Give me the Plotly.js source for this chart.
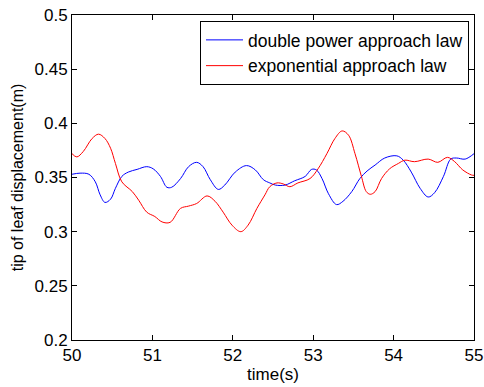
<!DOCTYPE html>
<html>
<head>
<meta charset="utf-8">
<script src="https://cdn.plot.ly/plotly-3.0.1.min.js"></script>
<style>html,body{margin:0;padding:0;background:#fff;}#chart{width:484px;height:387px;}</style>
</head>
<body>
<div id="chart"></div>
<script>
const seriesNames = ["double power approach law", "exponential approach law"];

const blueTime = [50.00,50.10,50.21,50.29,50.35,50.41,50.48,50.54,50.62,50.70,50.81,50.93,51.01,51.10,51.18,51.24,51.35,51.45,51.55,51.63,51.72,51.82,51.90,52.03,52.17,52.28,52.38,52.46,52.53,52.65,52.77,52.90,52.98,53.04,53.11,53.19,53.29,53.37,53.48,53.58,53.67,53.77,53.89,54.04,54.12,54.22,54.33,54.43,54.51,54.62,54.71,54.78,54.89,55.00];
const blueDisp = [0.353,0.354,0.353,0.346,0.334,0.327,0.330,0.340,0.351,0.355,0.3575,0.360,0.358,0.351,0.341,0.341,0.349,0.360,0.364,0.360,0.348,0.339,0.343,0.355,0.361,0.357,0.348,0.345,0.343,0.343,0.347,0.351,0.3575,0.357,0.349,0.335,0.325,0.328,0.337,0.349,0.356,0.3615,0.368,0.370,0.366,0.355,0.340,0.332,0.336,0.351,0.367,0.368,0.367,0.372];

const redTime = [50.00,50.06,50.14,50.25,50.33,50.41,50.48,50.54,50.62,50.75,50.83,50.93,51.03,51.12,51.22,51.35,51.45,51.55,51.68,51.78,51.88,51.99,52.10,52.19,52.30,52.40,52.46,52.55,52.63,52.71,52.81,52.96,53.06,53.17,53.27,53.36,53.44,53.52,53.60,53.66,53.71,53.77,53.85,53.95,54.06,54.14,54.26,54.43,54.55,54.67,54.76,54.86,54.97,55.00];
const redDisp = [0.372,0.369,0.374,0.386,0.390,0.386,0.377,0.363,0.346,0.337,0.329,0.318,0.314,0.309,0.3086,0.3215,0.3236,0.326,0.333,0.328,0.318,0.306,0.300,0.306,0.3215,0.334,0.3415,0.345,0.344,0.3415,0.345,0.349,0.358,0.372,0.386,0.393,0.389,0.372,0.351,0.337,0.3345,0.337,0.349,0.358,0.363,0.366,0.3646,0.367,0.364,0.3686,0.3646,0.357,0.3523,0.352];

const xTickVals = [50,51,52,53,54,55];
const yTickVals = [0.2,0.25,0.3,0.35,0.4,0.45,0.5];

const fam = "Liberation Sans, Arial, sans-serif";
const tickFont = {family: fam, size: 17, color: "#000"};
const legendFont = {family: fam, size: 17.5, color: "#000"};

const traces = [
  {x: blueTime, y: blueDisp, name: seriesNames[0], type: "scatter", mode: "lines",
   line: {color: "#0000ff", width: 1, shape: "spline", smoothing: 1}},
  {x: redTime, y: redDisp, name: seriesNames[1], type: "scatter", mode: "lines",
   line: {color: "#ff0000", width: 1, shape: "spline", smoothing: 1}}
];

const axisCommon = {
  showgrid: false, zeroline: false, showline: true, linecolor: "#000", linewidth: 1,
  mirror: "allticks", ticks: "inside", ticklen: 5, tickcolor: "#000", tickwidth: 1,
  tickfont: tickFont
};

const layout = {
  width: 484, height: 387,
  margin: {l: 72, r: 10, t: 15, b: 47},
  paper_bgcolor: "#fff", plot_bgcolor: "#fff",
  font: tickFont,
  showlegend: true,
  legend: {x: 0.9876, y: 0.9815, xanchor: "right", yanchor: "top",
           bordercolor: "#000", borderwidth: 1, bgcolor: "#fff",
           font: legendFont, itemwidth: 37, tracegroupgap: 0},
  xaxis: Object.assign({}, axisCommon, {range: [50, 55], tickvals: xTickVals,
    title: {text: "time(s)", font: {family: fam, size: 17, color: "#000"}, standoff: 3}}),
  yaxis: Object.assign({}, axisCommon, {range: [0.2, 0.5], tickvals: yTickVals,
    title: {text: "tip of leaf displacement(m)", font: {family: fam, size: 16, color: "#000"}, standoff: 6}})
};

Plotly.newPlot("chart", traces, layout, {displayModeBar: false, staticPlot: true});
</script>
</body>
</html>
